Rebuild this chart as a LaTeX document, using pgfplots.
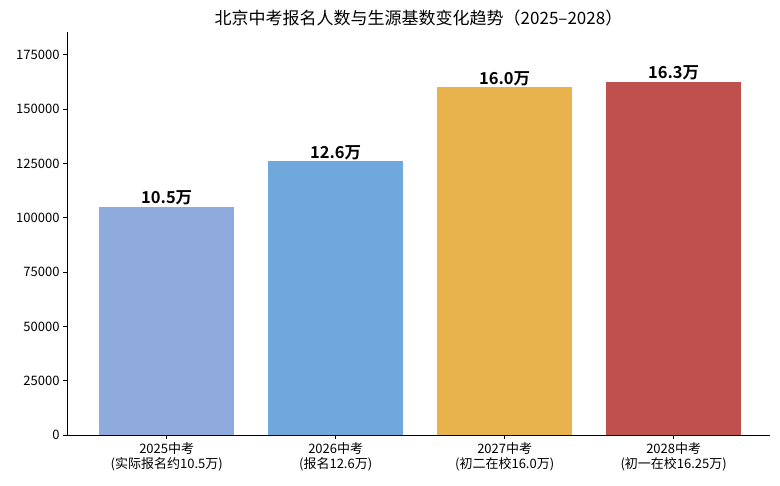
\documentclass[border=0pt]{standalone}
\usepackage{fontspec}
\setmainfont{Noto Sans CJK SC}[BoldFont={Noto Sans CJK SC Bold}]
\usepackage{pgfplots}
\pgfplotsset{compat=1.18}

\definecolor{c1}{RGB}{143,170,220}
\definecolor{c2}{RGB}{111,168,220}
\definecolor{c3}{RGB}{232,179,76}
\definecolor{c4}{RGB}{192,80,77}

\begin{document}
\begin{tikzpicture}
\begin{axis}[
    scale only axis,
    width=703pt, height=403pt,
    xmin=-0.59, xmax=3.57,
    ymin=0, ymax=185500,
    axis x line*=bottom, axis y line*=left,
    axis line style={line width=0.8pt},
    tick align=outside,
    major tick length=4pt,
    tick style={black, line width=0.8pt},
    xtick={0,1,2,3},
    xticklabels={{2025中考\\(实际报名约10.5万)},{2026中考\\(报名12.6万)},{2027中考\\(初二在校16.0万)},{2028中考\\(初一在校16.25万)}},
    xticklabel style={align=center, font=\fontsize{13}{15}\selectfont},
    ytick={0,25000,...,175000},
    scaled y ticks=false,
    yticklabel={\pgfmathprintnumber[assume math mode=true, set thousands separator={}, fixed, precision=0]{\tick}},
    yticklabel style={font=\fontsize{13}{14}\selectfont},
    title={北京中考报名人数与生源基数变化趋势（2025–2028）},
    title style={font=\fontsize{17}{19}\selectfont, yshift=-4pt},
    ybar, bar width=0.8, bar shift=0pt,
    nodes near coords,
    point meta=explicit symbolic,
    nodes near coords style={font=\bfseries\fontsize{16.5}{17}\selectfont, inner sep=0pt, yshift=1.5pt},
]
\addplot[draw=none, fill=c1] table[x=x, y=y, meta=lab] {
x y lab
0 105000 10.5万
};
\addplot[draw=none, fill=c2] table[x=x, y=y, meta=lab] {
x y lab
1 126000 12.6万
};
\addplot[draw=none, fill=c3] table[x=x, y=y, meta=lab] {
x y lab
2 160000 16.0万
};
\addplot[draw=none, fill=c4] table[x=x, y=y, meta=lab] {
x y lab
3 162500 16.3万
};
\end{axis}
\pgfresetboundingbox
\path (current axis.south west) ++(-67pt,-50pt) coordinate (a);
\path (current axis.north east) ++(10pt,32pt) coordinate (b);
\useasboundingbox (a) rectangle (b);
\end{tikzpicture}
\end{document}
